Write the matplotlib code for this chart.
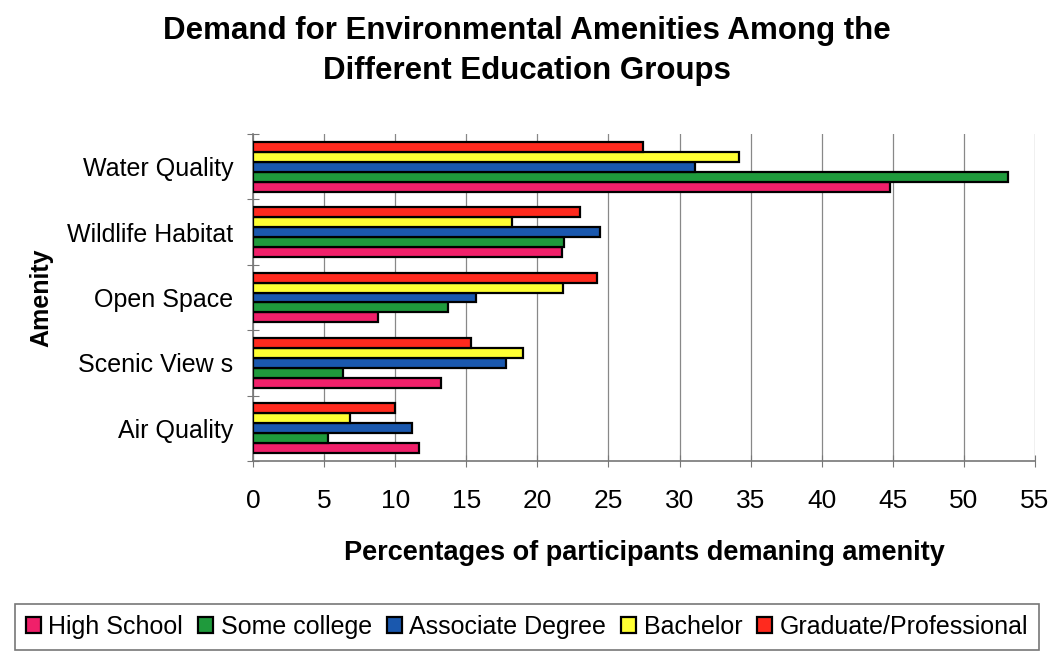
import numpy as np
import matplotlib

matplotlib.use('Agg')
import matplotlib.pyplot as plt

plt.rcParams['font.family'] = ['Liberation Sans', 'DejaVu Sans']

# categories listed bottom to top (as drawn by the bar chart)
amenities = ['Air Quality', 'Scenic View s', 'Open Space', 'Wildlife Habitat', 'Water Quality']
groups = ['High School', 'Some college', 'Associate Degree', 'Bachelor', 'Graduate/Professional']
colors = ['#f0206a', '#1f9a3c', '#1a58ae', '#ffff33', '#ff2a1e']

high_school = [11.7, 13.2, 8.8, 21.7, 44.8]
some_college = [5.3, 6.3, 13.7, 21.9, 53.1]
associate = [11.2, 17.8, 15.7, 24.4, 31.1]
bachelor = [6.8, 19.0, 21.8, 18.2, 34.2]
graduate = [10.0, 15.3, 24.2, 23.0, 27.4]
series = [high_school, some_college, associate, bachelor, graduate]

W, H = 1054, 656
fig = plt.figure(figsize=(W / 100, H / 100), dpi=100)
ax = fig.add_axes([253 / W, 1 - 461 / H, (1035 - 253) / W, (461 - 134) / H])

y = np.arange(len(amenities))
group_h = 0.76
bar_h = group_h / len(series)
for j, vals in enumerate(series):
    pos = y - group_h / 2 + bar_h * (j + 0.5)
    ax.barh(pos, vals, height=bar_h, color=colors[j], edgecolor='black',
            linewidth=1.6, label=groups[j], zorder=3)

ax.set_xlim(0, 55)
ax.set_ylim(-0.5, len(amenities) - 0.5)
ax.set_xticks(np.arange(0, 56, 5))
ax.tick_params(axis='x', direction='inout', length=9, color='#777777',
               labelsize=19, pad=16)
ax.set_yticks(np.arange(-0.5, len(amenities), 1))
ax.set_yticklabels([])
ax.tick_params(axis='y', which='major', direction='inout', length=8, color='#777777')
ax.set_yticks(y, minor=True)
ax.set_yticklabels(amenities, minor=True)
ax.tick_params(axis='y', which='minor', length=0, labelsize=18, pad=14)

ax.grid(axis='x', color='#888888', linewidth=0.9, zorder=0)
for s in ['top', 'right']:
    ax.spines[s].set_visible(False)
for s in ['left', 'bottom']:
    ax.spines[s].set_color('#777777')
    ax.spines[s].set_linewidth(1.2)

ax.set_ylabel('Amenity', fontsize=18, fontweight='bold')
ax.yaxis.set_label_coords(-0.255, 0.5)
ax.set_xlabel('Percentages of participants demaning amenity', fontsize=19.5,
              fontweight='bold', labelpad=19)

fig.text(0.5, 1 - 51 / H, 'Demand for Environmental Amenities Among the\nDifferent Education Groups',
         ha='center', va='center', fontsize=22.5, fontweight='bold', linespacing=1.45)

handles, labels = ax.get_legend_handles_labels()
leg = fig.legend(handles, labels, loc='center', bbox_to_anchor=(0.5, 1 - 627 / H),
                 ncol=5, fontsize=18, frameon=True, fancybox=False,
                 handlelength=0.6, handleheight=0.6, handletextpad=0.3,
                 columnspacing=0.6, borderpad=0.45, borderaxespad=0)
leg.get_frame().set_edgecolor('#555555')
leg.get_frame().set_linewidth(1.2)

fig.savefig('out.png', dpi=100)
